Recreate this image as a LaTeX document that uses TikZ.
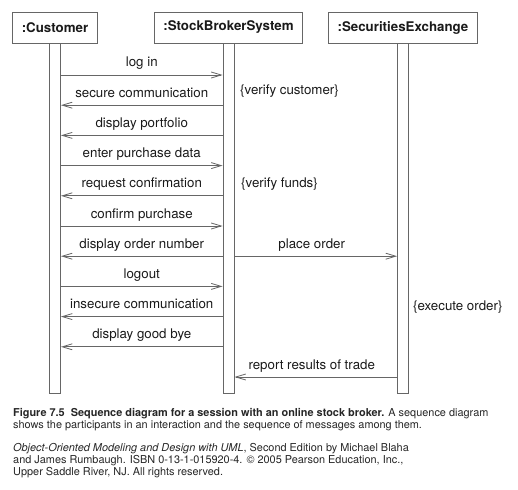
\documentclass[tikz,border=0pt]{standalone}
\usepackage{fontspec}
\setmainfont{TeX Gyre Heros}
\usetikzlibrary{positioning,arrows.meta}
\newcommand{\seqFont}{\fontsize{13.3}{15}\selectfont}
\newcommand{\capFont}{\fontsize{10.9}{12}\selectfont}

\begin{document}
\begin{tikzpicture}[x=1pt, y=-1pt,
    obj/.style={draw=black!60, line width=0.8pt, minimum height=31pt, inner xsep=9pt,
                font=\seqFont\bfseries, text=black!90},
    life/.style={draw=black!60, line width=0.8pt, minimum width=11pt, minimum height=350pt,
                 inner sep=0pt},
    msg/.style={draw=black!60, line width=0.8pt, -{Straight Barb[length=10pt,width=6pt]}},
    lbl/.style={font=\seqFont, text=black!90, midway, anchor=base, yshift=8pt, inner sep=0pt},
    cstr/.style={font=\seqFont, text=black!90, anchor=west, inner sep=0pt},
    captxt/.style={font=\capFont, text=black!85, anchor=base west, inner sep=0pt}]
	\useasboundingbox (0,0) rectangle (518,489);

	% participants
	\node[obj] (cust) at (55,27.5) {:Customer};
	\node[obj] (sbs) at (228.5,27.5) {:StockBrokerSystem};
	\node[obj] (sec) at (403,27.5) {:SecuritiesExchange};

	\node[life, below=0pt of cust] (custbar) {};
	\node[life, below=0pt of sbs] (sbsbar) {};
	\node[life, below=0pt of sec] (secbar) {};

	% messages
	\draw[msg] (custbar.east |- 0,75) -- node[lbl] (login) {log in} (sbsbar.west |- 0,75);
	\draw[msg] (sbsbar.west |- 0,105.2) -- node[lbl] (secure) {secure communication} (custbar.east |- 0,105.2);
	\draw[msg] (sbsbar.west |- 0,135.4) -- node[lbl] (portf) {display portfolio} (custbar.east |- 0,135.4);
	\draw[msg] (custbar.east |- 0,165.6) -- node[lbl] (enter) {enter purchase data} (sbsbar.west |- 0,165.6);
	\draw[msg] (sbsbar.west |- 0,195.8) -- node[lbl] (reqconf) {request confirmation} (custbar.east |- 0,195.8);
	\draw[msg] (custbar.east |- 0,226) -- node[lbl] (confirm) {confirm purchase} (sbsbar.west |- 0,226);
	\draw[msg] (sbsbar.west |- 0,256.2) -- node[lbl] (ordno) {display order number} (custbar.east |- 0,256.2);
	\draw[msg] (sbsbar.east |- 0,256.2) -- node[lbl, xshift=-4pt] (place) {place order} (secbar.west |- 0,256.2);
	\draw[msg] (custbar.east |- 0,286.4) -- node[lbl] (logout) {logout} (sbsbar.west |- 0,286.4);
	\draw[msg] (sbsbar.west |- 0,316.6) -- node[lbl] (insecure) {insecure communication} (custbar.east |- 0,316.6);
	\draw[msg] (sbsbar.west |- 0,346.8) -- node[lbl] (bye) {display good bye} (custbar.east |- 0,346.8);
	\draw[msg] (secbar.west |- 0,377) -- node[lbl, xshift=-4pt] (report) {report results of trade} (sbsbar.east |- 0,377);

	% constraints
	\node[cstr] (vcust) at (240,91) {\{verify customer\}};
	\node[cstr] (vfunds) at (241,184) {\{verify funds\}};
	\node[cstr] (exec) at (413,307) {\{execute order\}};

	% caption
	\node[captxt] (cap1) at (13,416) {\textbf{Figure 7.5\ \ Sequence diagram for a session with an online stock broker.} A sequence diagram};
	\node[captxt] (cap2) at (13,428) {shows the participants in an interaction and the sequence of messages among them.};
	\node[captxt] (cap3) at (13,451) {\textit{Object-Oriented Modeling and Design with UML}, Second Edition by Michael Blaha};
	\node[captxt] (cap4) at (13,463) {and James Rumbaugh. ISBN 0-13-1-015920-4. © 2005 Pearson Education, Inc.,};
	\node[captxt] (cap5) at (13,475) {Upper Saddle River, NJ. All rights reserved.};
\end{tikzpicture}
\end{document}
